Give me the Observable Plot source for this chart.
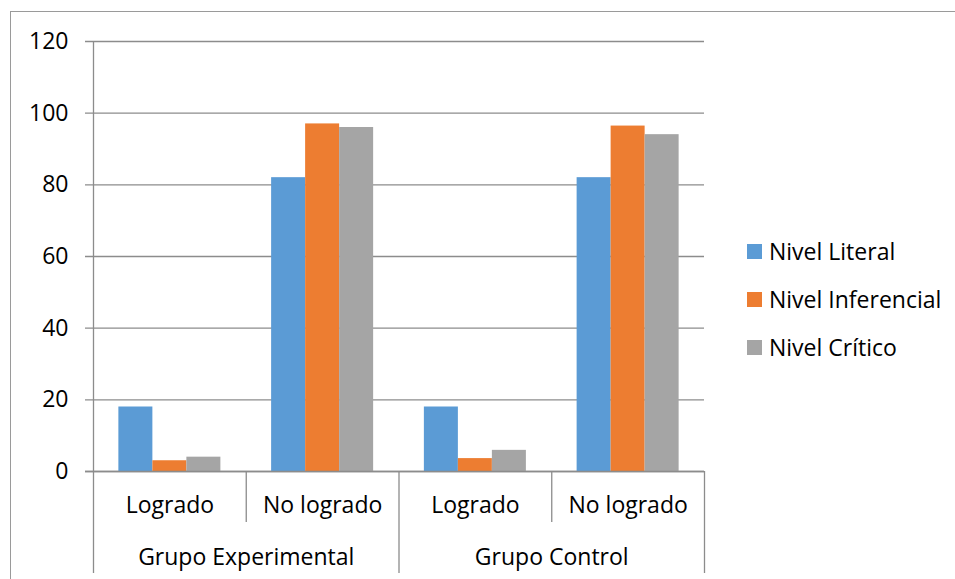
<!DOCTYPE html>
<html>
<head>
<meta charset="utf-8">
<script src="https://cdn.jsdelivr.net/npm/d3@7"></script>
<script src="https://cdn.jsdelivr.net/npm/@observablehq/plot@0.6"></script>
<style>
  html, body { margin: 0; padding: 0; background: #fff; }
  #wrap { position: relative; width: 955px; height: 579px; overflow: hidden; font-family: "Open Sans", sans-serif; }
  #border { position: absolute; left: 10px; top: 11px; width: 2000px; height: 2000px; border-left: 1.3px solid #9a9a9a; border-top: 1.3px solid #9a9a9a; pointer-events: none; }
  #legend { position: absolute; left: 747px; top: 227px; font-size: 23px; color: #000; }
  .item { display: flex; align-items: center; height: 48px; margin-top: 0; }
  .sw { width: 15px; height: 15px; margin-right: 7px; flex: none; }
</style>
</head>
<body>
<div id="wrap">
  <div id="chart"></div>
  <div id="border"></div>
  <div id="legend"></div>
</div>
<script>
// ---- data ----
const subcategories = ["Logrado", "No logrado", "Logrado", "No logrado"];
const groups = ["Grupo Experimental", "Grupo Control"];
const series = ["Nivel Literal", "Nivel Inferencial", "Nivel Crítico"];
const nivelLiteral = [18, 82, 18, 82];
const nivelInferencial = [3, 97, 3.6, 96.4];
const nivelCritico = [4, 96, 5.9, 94];
const yTicks = [0, 20, 40, 60, 80, 100, 120];
const colors = ["#5B9BD5", "#ED7D31", "#A5A5A5"];

// ---- build table ----
const values = [nivelLiteral, nivelInferencial, nivelCritico];
const barW = 0.2226;                 // bar width as a fraction of a category slot
const pad = (1 - series.length * barW) / 2;
const rows = [];
subcategories.forEach((c, i) => {
  series.forEach((s, j) => {
    rows.push({cat: i, series: s, value: values[j][i],
               x1: i + pad + j * barW, x2: i + pad + (j + 1) * barW});
  });
});
const subLabels = subcategories.map((c, i) => ({x: i + 0.5, label: c}));
const groupLabels = groups.map((g, k) => ({x: 2 * k + 1, label: g}));
const subDividers = [1, 3];
const groupDividers = [0, 2, 4];

const gridColor = "#8c8c8c";
const unitPx = (579 - 108 - 41) / 120;   // px per y unit
const below = px => -px / unitPx;

const chart = Plot.plot({
  width: 955,
  height: 579,
  marginLeft: 93,
  marginRight: 251,
  marginTop: 41,
  marginBottom: 108,
  style: {fontFamily: "Open Sans, sans-serif", fontSize: "23px", color: "#000", background: "transparent", overflow: "visible"},
  x: {domain: [0, subcategories.length], axis: null},
  y: {domain: [0, 120], ticks: yTicks, axis: null},
  color: {domain: series, range: colors},
  marks: [
    Plot.ruleY(yTicks, {y: d => d, x1: 0, x2: subcategories.length, stroke: gridColor, strokeWidth: 1.3, insetLeft: -8}),
    Plot.axisY({ticks: yTicks, tickSize: 0, tickPadding: 25, fontSize: 23, label: null, textStroke: "none"}),
    Plot.rectY(rows, {x1: "x1", x2: "x2", y: "value", fill: "series"}),
    Plot.ruleY([0], {stroke: gridColor, strokeWidth: 1.3, insetLeft: -8}),
    Plot.ruleX(groupDividers, {x: d => d, y1: d => d === 0 ? 120 : 0, y2: below(102), stroke: gridColor, strokeWidth: 1.3}),
    Plot.ruleX(subDividers, {x: d => d, y1: 0, y2: below(51), stroke: gridColor, strokeWidth: 1.3}),
    Plot.text(subLabels, {x: "x", y: below(34), text: "label", fontSize: 23, lineAnchor: "middle", fill: "#000"}),
    Plot.text(groupLabels, {x: "x", y: below(86), text: "label", fontSize: 23, lineAnchor: "middle", fill: "#000"})
  ]
});
document.getElementById("chart").appendChild(chart);

// ---- legend ----
const legend = document.getElementById("legend");
series.forEach((s, j) => {
  const item = document.createElement("div");
  item.className = "item";
  const sw = document.createElement("span");
  sw.className = "sw";
  sw.style.background = colors[j];
  const t = document.createElement("span");
  t.textContent = s;
  item.appendChild(sw);
  item.appendChild(t);
  legend.appendChild(item);
});
</script>
</body>
</html>
